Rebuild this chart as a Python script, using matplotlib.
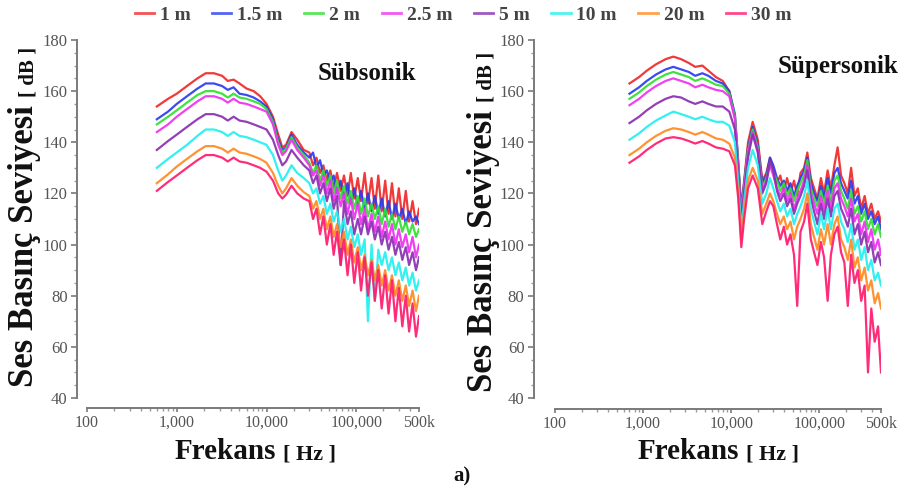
import matplotlib
matplotlib.use("Agg")
import matplotlib.pyplot as plt
from matplotlib.ticker import FixedLocator, NullFormatter, LogLocator, MultipleLocator

# ---------------- data ----------------
labels = ["1 m", "1.5 m", "2 m", "2.5 m", "5 m", "10 m", "20 m", "30 m"]
colors = ["#f02828", "#2a3cf0", "#30e030", "#f030f0", "#8a2fb0", "#20f0f0", "#ff8a20", "#ff1a6e"]

noise_freq = [30000, 33000, 36000, 39500, 43000, 47000, 51500, 56000, 61000, 67000,
              73000, 80000, 87000, 95000, 104000, 113000, 124000, 135000, 148000, 161000,
              176000, 192000, 210000, 229000, 250000, 273000, 298000, 326000, 356000, 388000,
              424000, 463000, 500000]

# Sübsonik
freq_sub = [600, 800, 1000, 1300, 1700, 2100, 2600, 3200, 3700, 4300, 5000, 6000, 7200,
            8500, 10000, 11800, 13500, 15000, 16500, 19000, 22000, 26000] + noise_freq

sub_1m = [154, 157, 159, 162, 165, 167, 167, 166, 164, 164.5, 163, 161, 160, 158, 155, 150, 143, 138, 139, 144, 141, 137,
          136, 131, 134, 128, 131, 125, 129, 122, 128, 121, 127, 119, 128, 118, 126, 117, 128, 116, 126, 114,
          127, 113, 125, 112, 124, 111, 122, 110, 121, 109, 117, 108, 114]
sub_1_5m = [149, 152, 155, 158, 161, 163, 163, 162, 160.5, 161.5, 159, 158.5, 157.5, 156, 154, 149, 141, 137, 138, 143, 139, 136,
            134, 136, 130, 133, 127, 129, 124, 127, 120, 125, 118, 124, 116, 122, 115, 121, 114, 120, 113, 119,
            112, 118, 111, 117, 110, 116, 110, 114, 108, 113, 109, 111, 108]
sub_2m = [147, 150, 152.5, 155.5, 158.5, 160, 160, 159, 157.5, 159, 157.5, 157, 156, 155, 153, 148, 140, 136, 137.5, 142, 138, 135,
          132, 128, 131, 125, 129, 123, 127, 120, 125, 118, 123, 116, 121, 114, 119, 112, 118, 111, 116, 110,
          115, 108, 114, 107, 112, 106, 111, 105, 109, 104, 108, 103, 106]
sub_2_5m = [144, 147, 150, 153, 156, 158, 158, 157, 155.5, 157, 155.5, 155, 154, 153, 152, 147, 139, 135, 136.5, 141, 137, 134,
            131, 127, 129, 123, 127, 120, 125, 117, 122, 115, 120, 112, 118, 110, 116, 108, 114, 106, 112, 105,
            111, 103, 109, 102, 108, 100, 106, 99, 104, 97, 103, 95, 100]
sub_5m = [137, 140.5, 143, 146, 149, 151, 151, 150, 148.5, 150, 148.5, 148, 147, 146, 145, 141, 135, 131, 132.5, 137, 134, 131,
          129, 124, 127, 120, 124, 117, 122, 114, 119, 92, 117, 108, 113, 104, 110, 104, 111, 104, 109, 102,
          107, 100, 105, 98, 103, 96, 101, 94, 99, 92, 97, 90, 95]
sub_10m = [130, 133.5, 136, 139, 142.5, 145, 145, 144, 142.5, 144, 142.5, 142, 141, 140, 139, 135, 129, 125, 127, 131, 128, 126,
           124, 120, 122, 116, 119, 112, 116, 109, 113, 105, 110, 102, 107, 99, 104, 96, 102, 70, 100, 78,
           98, 92, 97, 90, 95, 88, 93, 86, 91, 84, 89, 82, 86]
sub_20m = [124, 127.5, 130.5, 133.5, 136.5, 138.5, 138.5, 137.5, 136, 137.5, 136, 135.5, 134.5, 133.5, 132, 128, 123, 120, 122, 126, 123, 120.5,
           119, 114, 117, 110, 114, 106, 111, 103, 108, 99, 105, 96, 102, 93, 99, 90, 96, 88, 94, 86,
           92, 84, 90, 82, 88, 80, 86, 78, 84, 76, 82, 74, 80]
sub_30m = [121, 124.5, 127, 130, 133, 135, 135, 134, 132.5, 134, 132.5, 132, 131, 130, 128.5, 125, 120, 118, 119.5, 123, 120, 118,
           117, 110, 114, 104, 111, 100, 108, 96, 105, 92, 102, 88, 100, 85, 97, 82, 95, 80, 93, 78,
           90, 75, 88, 73, 86, 70, 83, 68, 80, 66, 77, 64, 72]

# Süpersonik
freq_sup = [700, 900, 1100, 1400, 1800, 2200, 2700, 3300, 3900, 4700, 5500, 6700, 8000, 9500,
            11000, 12000, 13000, 14000, 15500, 17500, 20000, 22500, 25000, 27500] + noise_freq

sup_1m = [163, 165.5, 168, 170.5, 172.5, 173.5, 172.5, 171, 169.5, 170, 168, 165.5, 164, 160, 150, 132, 114, 125, 140, 148, 141, 125, 128, 134,
          129, 124, 127, 121, 126, 120, 125, 119, 128, 130, 136, 126, 122, 118, 126, 120, 129, 122, 131, 138,
          127, 124, 120, 130, 119, 122, 114, 119, 112, 116, 110, 113, 109]
sup_1_5m = [159, 161.5, 164, 166.5, 168.5, 169.5, 168.5, 167.5, 166, 167, 166, 164, 163, 160, 151, 132, 113, 124, 138, 146, 139, 124, 127, 134,
            131, 126, 123, 125, 121, 124, 119, 123, 126, 129, 134, 124, 120, 117, 123, 118, 126, 120, 128, 130,
            124, 121, 118, 125, 116, 119, 112, 116, 110, 113, 108, 111, 106]
sup_2m = [157, 159.5, 162, 164.5, 166.5, 167.5, 166.5, 165.5, 164, 165, 164, 162.5, 162, 159, 150, 131, 112, 123, 137, 145, 138, 122, 126, 132,
          128, 125, 121, 124, 119, 122, 117, 121, 124, 127, 133, 122, 118, 115, 121, 116, 123, 117, 125, 127,
          121, 118, 114, 121, 112, 115, 109, 113, 106, 110, 104, 108, 103]
sup_2_5m = [154.5, 157, 159.5, 162, 164, 165, 164, 163, 161.5, 162.5, 161.5, 160.5, 160, 158, 149, 130, 111, 122, 136, 144, 137, 121, 125, 131,
            127, 122, 119, 122, 117, 120, 114, 118, 121, 125, 131, 120, 116, 112, 119, 113, 121, 114, 122, 124,
            118, 115, 111, 118, 109, 112, 104, 109, 101, 106, 98, 102, 96]
sup_5m = [147.5, 150, 152.5, 155, 157, 158, 157.5, 156, 155, 156, 155, 154, 154, 152, 145, 128, 109, 120, 134, 143, 136, 120, 124, 133,
          129, 121, 117, 120, 115, 118, 112, 116, 119, 123, 129, 118, 113, 108, 116, 110, 118, 111, 119, 121,
          114, 111, 107, 114, 104, 108, 100, 105, 97, 101, 93, 97, 92]
sup_10m = [141, 143.5, 146, 148.5, 150.5, 152, 151, 150, 149, 150, 149, 148, 148, 146.5, 140, 124, 106, 117, 130, 137, 131, 116, 120, 126,
           122, 117, 113, 116, 111, 114, 108, 112, 115, 119, 125, 114, 109, 104, 112, 106, 114, 106, 114, 116,
           109, 106, 101, 108, 98, 102, 94, 99, 90, 94, 86, 89, 84]
sup_20m = [135, 137.5, 140, 142.5, 144.5, 145.5, 145, 144, 143, 144, 143, 141.5, 141, 139.5, 134, 120, 102, 113, 125, 130, 125, 112, 116, 120,
           117, 112, 108, 111, 106, 109, 102, 107, 110, 114, 120, 108, 103, 98, 106, 100, 108, 100, 108, 111,
           102, 99, 94, 102, 91, 95, 86, 91, 82, 86, 77, 81, 75]
sup_30m = [132, 134.5, 137, 139.5, 141.5, 142, 141.5, 140.5, 139.5, 140.5, 139.5, 138, 137.5, 136.5, 131, 118, 99, 110, 122, 127, 122, 108, 113, 117,
           115, 108, 102, 107, 100, 104, 96, 76, 105, 109, 116, 102, 97, 92, 101, 95, 78, 96, 104, 107,
           97, 93, 76, 96, 85, 90, 78, 84, 50, 75, 62, 68, 50]

sub_series = [sub_1m, sub_1_5m, sub_2m, sub_2_5m, sub_5m, sub_10m, sub_20m, sub_30m]
sup_series = [sup_1m, sup_1_5m, sup_2m, sup_2_5m, sup_5m, sup_10m, sup_20m, sup_30m]

xticks = [100, 1000, 10000, 100000, 500000]
xticklabels = ["100", "1,000", "10,000", "100,000", "500k"]
yticks = [40, 60, 80, 100, 120, 140, 160, 180]

# ---------------- figure ----------------
W, H = 911, 494
fig = plt.figure(figsize=(W / 100, H / 100), dpi=100)
SERIF = "Liberation Serif"
plt.rcParams["font.family"] = SERIF

def px(x, y):
    return x / W, 1 - y / H

def make_axes(x0, x1, y0, y1, off_left, off_bottom):
    ax = fig.add_axes([x0 / W, 1 - y1 / H, (x1 - x0) / W, (y1 - y0) / H])
    ax.set_xscale("log")
    ax.set_xlim(100, 500000)
    ax.set_ylim(40, 180)
    for s in ["top", "right"]:
        ax.spines[s].set_visible(False)
    ax.spines["left"].set_position(("outward", off_left))
    ax.spines["bottom"].set_position(("outward", off_bottom))
    for s in ["left", "bottom"]:
        ax.spines[s].set_color("#7a7a7a")
        ax.spines[s].set_linewidth(1.4)
    ax.xaxis.set_major_locator(FixedLocator(xticks))
    ax.set_xticklabels(xticklabels)
    ax.xaxis.set_minor_locator(LogLocator(base=10, subs=[2, 3, 4, 5, 6, 7, 8, 9], numticks=20))
    ax.xaxis.set_minor_formatter(NullFormatter())
    ax.yaxis.set_major_locator(FixedLocator(yticks))
    ax.yaxis.set_minor_locator(MultipleLocator(5))
    ax.tick_params(which="major", length=4, width=1.2, color="#7a7a7a",
                   labelsize=12, labelcolor="#555555", pad=3)
    ax.tick_params(which="minor", length=2.5, width=1.0, color="#9a9a9a")
    ax.tick_params(axis="x", which="major", length=3, pad=2, labelsize=11.5)
    for t in ax.get_xticklabels() + ax.get_yticklabels():
        t.set_fontfamily(SERIF)
    return ax

ax1 = make_axes(87, 419, 40, 398, 7, 7)
ax2 = make_axes(555, 881, 40, 398, 15, 8)

lines = []
for vals, c, lab in zip(sub_series, colors, labels):
    ln, = ax1.plot(freq_sub, vals, color=c, lw=1.6, label=lab, solid_joinstyle="round", alpha=0.92)
    lines.append(ln)
for vals, c, lab in zip(sup_series, colors, labels):
    ax2.plot(freq_sup, vals, color=c, lw=1.6, solid_joinstyle="round", alpha=0.92)

# panel titles
fig.text(*px(318, 80), "Sübsonik", fontsize=18, fontweight="bold", family=SERIF,
         ha="left", va="baseline", color="#111111")
fig.text(*px(778, 73), "Süpersonik", fontsize=18, fontweight="bold", family=SERIF,
         ha="left", va="baseline", color="#111111")

# axis labels (mixed sizes)
for xb, ybot, ytop in [(33, 387, 97), (492, 392, 102)]:
    fig.text(*px(xb, ybot), "Ses Basınç Seviyesi", fontsize=25, fontweight="bold", family=SERIF,
             rotation=90, rotation_mode="anchor", ha="left", va="baseline", color="#111111")
    fig.text(*px(xb, ytop), "[ dB ]", fontsize=15, fontweight="bold", family=SERIF,
             rotation=90, rotation_mode="anchor", ha="left", va="baseline", color="#111111")

for xl, xr in [(175, 283), (638, 746)]:
    fig.text(*px(xl, 459), "Frekans", fontsize=21, fontweight="bold", family=SERIF,
             ha="left", va="baseline", color="#111111")
    fig.text(*px(xr, 459), "[ Hz ]", fontsize=16, fontweight="bold", family=SERIF,
             ha="left", va="baseline", color="#111111")

fig.text(*px(462, 476), "a)", fontsize=15, fontweight="bold", family=SERIF,
         ha="center", va="center", color="#111111")

leg = fig.legend(handles=lines, labels=labels, loc="center", bbox_to_anchor=px(463, 15),
                 ncol=8, frameon=False, handlelength=1.0, handletextpad=0.3,
                 columnspacing=1.1, borderpad=0, prop={"family": SERIF, "weight": "bold", "size": 14})
for t in leg.get_texts():
    t.set_color("#444444")
for h in leg.legend_handles:
    h.set_linewidth(2.0)
    h.set_alpha(0.8)

fig.savefig("out.png", dpi=100, facecolor="white")
